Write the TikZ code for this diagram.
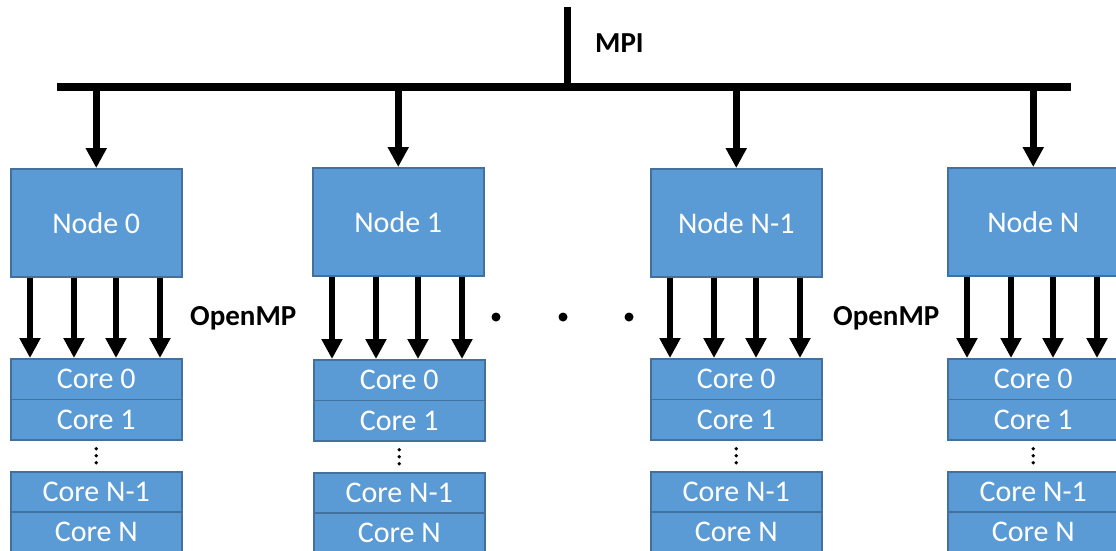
\documentclass[tikz,border=0pt]{standalone}
\usepackage{fontspec}
\setmainfont{Carlito}
\usetikzlibrary{arrows.meta,calc}
\definecolor{boxblue}{HTML}{5B9BD5}
\definecolor{boxedge}{HTML}{41719C}
\begin{document}
\begin{tikzpicture}[x=1pt,y=-1pt,
  unit/.style={draw=boxedge, line width=1.5pt, fill=boxblue, text=white,
    inner sep=0pt, anchor=north west, font=\fontsize{30}{33}\selectfont},
  nodebox/.style={unit, minimum width=171pt, minimum height=108pt},
  corebox/.style={unit, minimum width=171pt, minimum height=40.5pt},
  link/.style={line width=6.5pt, -{Triangle[width=20pt,length=20pt]}},
  bus/.style={line width=7.5pt},
  tag/.style={font=\bfseries\fontsize{29}{33}\selectfont, anchor=base west, inner sep=0pt}]

\useasboundingbox (0,0) rectangle (1116,550);

% MPI interconnect
\coordinate (busL) at (57,87);
\coordinate (busR) at (1071,87);
\coordinate (mpiTop) at (567.5,7);
\draw[bus] (busL) -- (busR);
\draw[bus] (mpiTop) -- (mpiTop |- busL);
\node[tag] (mpi) at (595,52) {MPI};

% compute nodes with their cores
\foreach \id/\nx/\ny/\cx/\cy/\lbl in {
    0/10/168/10/358/Node 0,
    1/312/167/313/359/Node 1,
    2/650/168/650/358/Node N-1,
    3/947/167/947/358/Node N} {
  \node[nodebox] (n\id) at (\nx,\ny) {\lbl};
  \node[corebox] (c\id a) at (\cx,\cy) {Core 0};
  \node[corebox] (c\id b) at (\cx,\cy+40.5) {Core 1};
  \node[corebox] (c\id c) at (\cx,\cy+113) {Core N-1};
  \node[corebox] (c\id d) at (\cx,\cy+153) {Core N};
  \foreach \dy in {-7,0,7}
    \fill ($(c\id b.south)!0.5!(c\id c.north)+(0,\dy)$) circle (1.8pt);
  \draw[link] (n\id.north |- busL) -- (n\id.north);
  \foreach \dx in {20,64,106,150}
    \draw[link] ([xshift=\dx pt]n\id.south west) -- ([xshift=\dx pt]n\id.south west |- c\id a.north);
}

% OpenMP labels and ellipsis between nodes
\node[tag] (omp1) at (190,325) {OpenMP};
\node[tag] (omp2) at (833,325) {OpenMP};
\foreach \x in {496,563,629}
  \fill (\x,317) circle (4.5pt);

\end{tikzpicture}
\end{document}
